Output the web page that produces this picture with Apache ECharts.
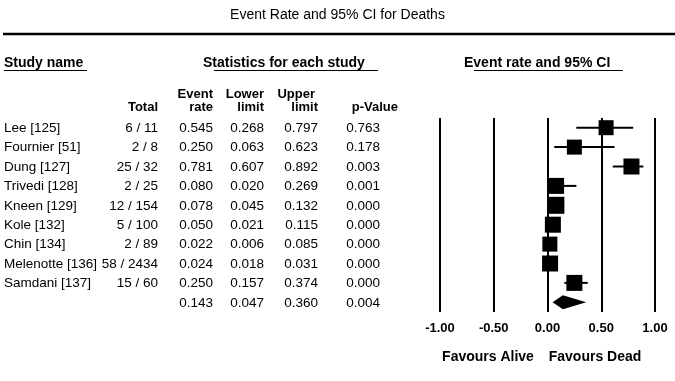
<!DOCTYPE html>
<html>
<head>
<meta charset="utf-8">
<script src="https://cdn.jsdelivr.net/npm/echarts@6/dist/echarts.min.js"></script>
<style>
  html, body { margin: 0; padding: 0; background: #fff; }
  #chart { width: 675px; height: 381px; }
</style>
</head>
<body>
<div id="chart"></div>
<script>
// Per-study results
const studies    = ['Lee [125]', 'Fournier [51]', 'Dung [127]', 'Trivedi [128]', 'Kneen [129]', 'Kole [132]', 'Chin [134]', 'Melenotte [136]', 'Samdani [137]'];
const totals     = ['6 / 11', '2 / 8', '25 / 32', '2 / 25', '12 / 154', '5 / 100', '2 / 89', '58 / 2434', '15 / 60'];
const eventRate  = [0.545, 0.250, 0.781, 0.080, 0.078, 0.050, 0.022, 0.024, 0.250];
const lowerLimit = [0.268, 0.063, 0.607, 0.020, 0.045, 0.021, 0.006, 0.018, 0.157];
const upperLimit = [0.797, 0.623, 0.892, 0.269, 0.132, 0.115, 0.085, 0.031, 0.374];
const pValue     = [0.763, 0.178, 0.003, 0.001, 0.000, 0.000, 0.000, 0.000, 0.000];
// Relative study weights shown as box size (px)
const boxSizes   = [15, 15, 16, 16, 17, 16, 15, 16, 16];

// Pooled estimate
const pooledRate  = 0.143;
const pooledLower = 0.047;
const pooledUpper = 0.360;
const pooledP     = 0.004;

// Axis ticks
const xTicks = [-1, -0.5, 0, 0.5, 1];

const rowLabels = studies.concat(['Overall']);
const FONT = "'Liberation Sans', Arial, sans-serif";
const BLACK = '#000';

// Table column anchors (right-aligned except the study name)
const COL = { name: 4, total: 158, rate: 213, lower: 264, upper: 318, p: 380 };

const chart = echarts.init(document.getElementById('chart'), null, { renderer: 'canvas' });

const tableRows = rowLabels.map((_, i) => i);

function fmt(v) { return v.toFixed(3); }

const HEAD = `bold 14px ${FONT}`;
const COLHEAD = `bold 13px ${FONT}`;
const CELL = `13.5px ${FONT}`;

const option = {
  animation: false,
  backgroundColor: '#fff',
  title: {
    text: 'Event Rate and 95% CI for Deaths',
    left: 'center',
    top: 8,
    padding: 0,
    textStyle: { fontFamily: FONT, fontSize: 14, fontWeight: 'normal', color: BLACK }
  },
  grid: [
    { left: 440, width: 215, top: 118, height: 194, containLabel: false },
    { left: 0, width: 440, top: 118, height: 194, containLabel: false }
  ],
  xAxis: [
    {
      gridIndex: 0, type: 'value', min: xTicks[0], max: xTicks[xTicks.length - 1], interval: 0.5,
      axisLine: { show: false }, axisTick: { show: false },
      splitLine: { show: true, showMinLine: true, showMaxLine: true, lineStyle: { color: BLACK, width: 2 } },
      axisLabel: {
        margin: 10, color: BLACK, fontFamily: FONT, fontSize: 13, fontWeight: 'bold',
        formatter: v => v.toFixed(2)
      }
    },
    { gridIndex: 1, type: 'value', min: 0, max: 440, show: false }
  ],
  yAxis: [
    { gridIndex: 0, type: 'category', data: rowLabels, inverse: true, show: false },
    { gridIndex: 1, type: 'category', data: rowLabels, inverse: true, show: false }
  ],
  graphic: [
    // rule under the title
    { type: 'line', shape: { x1: 3, y1: 34, x2: 675, y2: 34 }, style: { stroke: BLACK, lineWidth: 2.5 } },
    // section headings
    { type: 'text', x: 4, y: 63, style: { text: 'Study name', font: HEAD, fill: BLACK, verticalAlign: 'middle' } },
    { type: 'line', shape: { x1: 4, y1: 70.5, x2: 87, y2: 70.5 }, style: { stroke: BLACK, lineWidth: 1 } },
    { type: 'text', x: 203, y: 63, style: { text: 'Statistics for each study', font: HEAD, fill: BLACK, verticalAlign: 'middle' } },
    { type: 'line', shape: { x1: 214, y1: 70.5, x2: 378, y2: 70.5 }, style: { stroke: BLACK, lineWidth: 1 } },
    { type: 'text', x: 464, y: 63, style: { text: 'Event rate and 95% CI', font: HEAD, fill: BLACK, verticalAlign: 'middle' } },
    { type: 'line', shape: { x1: 474, y1: 70.5, x2: 623, y2: 70.5 }, style: { stroke: BLACK, lineWidth: 1 } },
    // column headings
    { type: 'text', x: COL.total, y: 107, style: { text: 'Total', font: COLHEAD, fill: BLACK, align: 'right', verticalAlign: 'middle' } },
    { type: 'text', x: COL.rate, y: 94, style: { text: 'Event', font: COLHEAD, fill: BLACK, align: 'right', verticalAlign: 'middle' } },
    { type: 'text', x: COL.rate, y: 107, style: { text: 'rate', font: COLHEAD, fill: BLACK, align: 'right', verticalAlign: 'middle' } },
    { type: 'text', x: COL.lower, y: 94, style: { text: 'Lower', font: COLHEAD, fill: BLACK, align: 'right', verticalAlign: 'middle' } },
    { type: 'text', x: COL.lower, y: 107, style: { text: 'limit', font: COLHEAD, fill: BLACK, align: 'right', verticalAlign: 'middle' } },
    { type: 'text', x: COL.upper - 3, y: 94, style: { text: 'Upper', font: COLHEAD, fill: BLACK, align: 'right', verticalAlign: 'middle' } },
    { type: 'text', x: COL.upper, y: 107, style: { text: 'limit', font: COLHEAD, fill: BLACK, align: 'right', verticalAlign: 'middle' } },
    { type: 'text', x: 398, y: 107, style: { text: 'p-Value', font: COLHEAD, fill: BLACK, align: 'right', verticalAlign: 'middle' } },
    // direction captions
    { type: 'text', x: 488, y: 357, style: { text: 'Favours Alive', font: HEAD, fill: BLACK, align: 'center', verticalAlign: 'middle' } },
    { type: 'text', x: 595, y: 357, style: { text: 'Favours Dead', font: HEAD, fill: BLACK, align: 'center', verticalAlign: 'middle' } }
  ],
  series: [
    // statistics table, one line per row
    {
      type: 'custom', name: 'table', xAxisIndex: 1, yAxisIndex: 1,
      data: tableRows.map(i => [0, i]),
      renderItem: function (params, api) {
        const i = api.value(1);
        const y = api.coord([0, i])[1] + 0.5;
        const pooled = i >= studies.length;
        const cells = pooled
          ? [['', COL.name, 'left'], ['', COL.total, 'right'],
             [fmt(pooledRate), COL.rate, 'right'], [fmt(pooledLower), COL.lower, 'right'],
             [fmt(pooledUpper), COL.upper, 'right'], [fmt(pooledP), COL.p, 'right']]
          : [[studies[i], COL.name, 'left'], [totals[i], COL.total, 'right'],
             [fmt(eventRate[i]), COL.rate, 'right'], [fmt(lowerLimit[i]), COL.lower, 'right'],
             [fmt(upperLimit[i]), COL.upper, 'right'], [fmt(pValue[i]), COL.p, 'right']];
        return {
          type: 'group',
          children: cells.map(c => ({
            type: 'text', x: c[1], y: y,
            style: { text: c[0], font: CELL, fill: BLACK, align: c[2], verticalAlign: 'middle' }
          }))
        };
      }
    },
    // confidence interval whiskers
    {
      type: 'custom', name: 'ci', xAxisIndex: 0, yAxisIndex: 0,
      data: studies.map((_, i) => [lowerLimit[i], upperLimit[i], i]),
      renderItem: function (params, api) {
        const a = api.coord([api.value(0), api.value(2)]);
        const b = api.coord([api.value(1), api.value(2)]);
        return { type: 'line', shape: { x1: a[0], y1: a[1], x2: b[0], y2: b[1] }, style: { stroke: BLACK, lineWidth: 2 } };
      },
      z: 2
    },
    // point estimates
    {
      type: 'scatter', name: 'rate', xAxisIndex: 0, yAxisIndex: 0,
      symbol: 'rect',
      data: studies.map((_, i) => ({ value: [eventRate[i], i], symbolSize: boxSizes[i] })),
      itemStyle: { color: BLACK, opacity: 1 },
      z: 3
    },
    // pooled estimate diamond
    {
      type: 'custom', name: 'pooled', xAxisIndex: 0, yAxisIndex: 0,
      data: [[pooledLower, pooledRate, pooledUpper, studies.length]],
      renderItem: function (params, api) {
        const row = api.value(3);
        const l = api.coord([api.value(0), row]);
        const m = api.coord([api.value(1), row]);
        const u = api.coord([api.value(2), row]);
        const h = 7;
        return {
          type: 'polygon',
          shape: { points: [[l[0], l[1]], [m[0], m[1] - h], [u[0], u[1]], [m[0], m[1] + h]] },
          style: { fill: BLACK }
        };
      },
      z: 3
    }
  ]
};

chart.setOption(option);
</script>
</body>
</html>
